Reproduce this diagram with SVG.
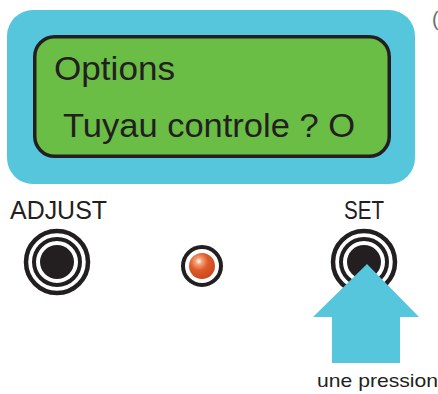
<svg xmlns="http://www.w3.org/2000/svg" width="438" height="394" viewBox="0 0 438 394">
  <style>
    .lcd-text { font-family: "Liberation Sans", "DejaVu Sans", sans-serif; fill: #231f20; }
    .label { font-family: "Liberation Sans", "DejaVu Sans", sans-serif; fill: #231f20; }
    .ring { fill: none; stroke: #231f20; }
  </style>
  <defs>
    <radialGradient id="ledGlow" cx="0.38" cy="0.32" r="0.7">
      <stop offset="0" stop-color="#ffffff"/>
      <stop offset="0.18" stop-color="#f2a27a"/>
      <stop offset="0.5" stop-color="#e05a2a"/>
      <stop offset="1" stop-color="#c9481c"/>
    </radialGradient>
    <g id="button">
      <circle class="ring" r="31" stroke-width="4.5"/>
      <circle class="ring" r="23" stroke-width="4"/>
      <circle r="17" fill="#231f20"/>
    </g>
  </defs>

  <rect width="438" height="394" fill="#ffffff"/>

  <!-- clipped glyph at the right edge -->
  <text x="432" y="26" font-family="Liberation Sans, sans-serif" font-size="20" fill="#6d6e71">(</text>

  <g id="panel">
    <rect x="7" y="10" width="408" height="174" rx="26" fill="#56c6dc"/>
  </g>

  <g id="display">
    <rect x="34.75" y="36.75" width="354.5" height="119.5" rx="20" fill="#6abd45" stroke="#231f20" stroke-width="3.5"/>
    <text class="lcd-text" x="54" y="80" font-size="33" textLength="121" lengthAdjust="spacingAndGlyphs">Options</text>
    <text class="lcd-text" x="63" y="137" font-size="33" textLength="292" lengthAdjust="spacingAndGlyphs">Tuyau controle ? O</text>
  </g>

  <g id="adjust">
    <text class="label" x="10" y="219" font-size="26" textLength="97" lengthAdjust="spacingAndGlyphs">ADJUST</text>
    <use href="#button" x="57" y="262"/>
  </g>

  <g id="led">
    <circle class="ring" cx="202" cy="266" r="19" stroke-width="4"/>
    <circle cx="202" cy="266" r="13" fill="url(#ledGlow)"/>
  </g>

  <g id="set">
    <text class="label" x="344" y="219" font-size="26" textLength="40" lengthAdjust="spacingAndGlyphs">SET</text>
    <use href="#button" x="364" y="262"/>
  </g>

  <g id="connectors">
    <polygon points="367,264 419,317 400,317 400,363 332,363 332,317 313,317" fill="#56c6dc"/>
  </g>

  <g id="press-note">
    <text class="label" x="317" y="387" font-size="19" textLength="121" lengthAdjust="spacingAndGlyphs">une pression</text>
  </g>
</svg>
